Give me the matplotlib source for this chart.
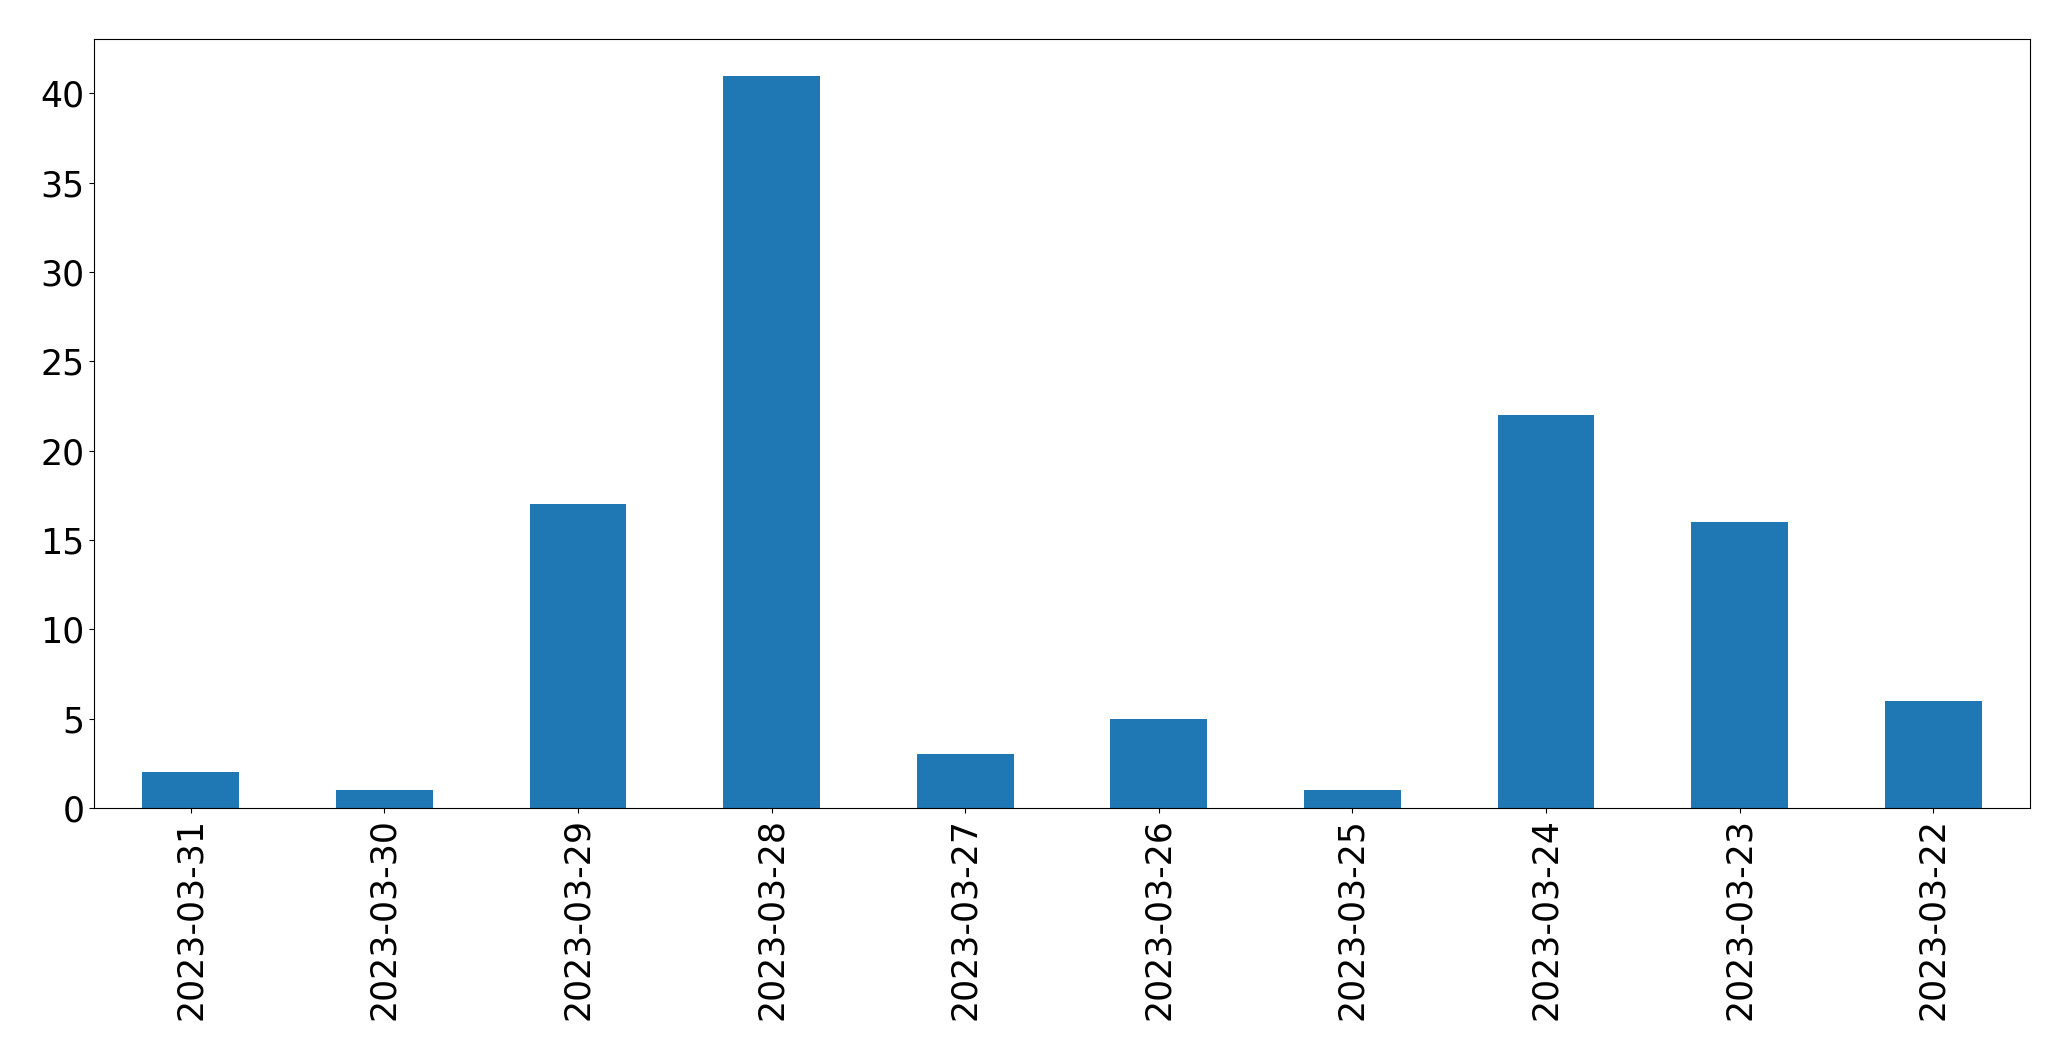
import matplotlib
matplotlib.use("Agg")
import matplotlib.pyplot as plt

dates = ["2023-03-31", "2023-03-30", "2023-03-29", "2023-03-28", "2023-03-27",
         "2023-03-26", "2023-03-25", "2023-03-24", "2023-03-23", "2023-03-22"]
counts = [2, 1, 17, 41, 3, 5, 1, 22, 16, 6]

fig = plt.figure(figsize=(20.71, 10.61), dpi=100)
ax = fig.add_axes([94/2071, 1 - 808/1061, (2030-94)/2071, (808-39)/1061])
x = range(len(dates))
ax.bar(x, counts, width=0.5, color="#1f77b4")
ax.set_xlim(-0.5, len(dates) - 0.5)
ax.set_ylim(0, 43.05)
ax.set_xticks(list(x))
ax.set_xticklabels(dates, rotation=90, fontsize=25)
ax.tick_params(axis="y", labelsize=25)
ax.set_yticks([0, 5, 10, 15, 20, 25, 30, 35, 40])
fig.savefig("out.png", dpi=100)
